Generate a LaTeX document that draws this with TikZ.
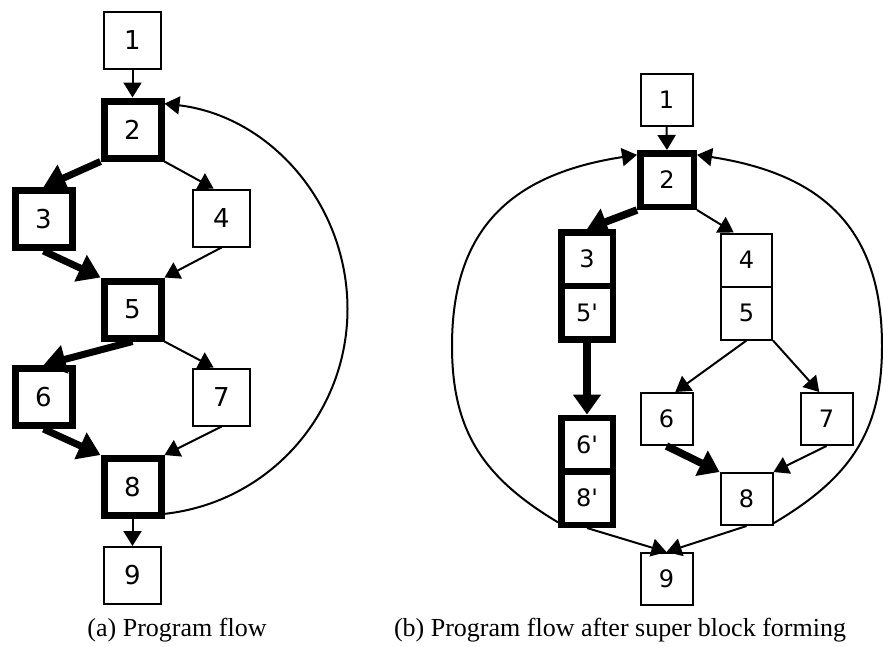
\documentclass[tikz,border=0pt]{standalone}
\usepackage{fontspec}
\setmainfont{Liberation Serif}
\newfontfamily\blockfont{DejaVu Sans}[Ligatures=TeXOff]
\usetikzlibrary{arrows.meta}

\begin{document}
\begin{tikzpicture}[x=1pt, y=-1pt,
  blk/.style={draw, rectangle, line width=2pt, minimum size=57pt, inner sep=0pt,
    font=\blockfont\fontsize{26}{26}\selectfont},
  hot/.style={blk, line width=7pt},
  rblk/.style={blk, minimum size=52pt, font=\blockfont\fontsize{24}{24}\selectfont},
  rhot/.style={rblk, line width=6.5pt},
  cell/.style={minimum width=51.5pt, minimum height=53.5pt},
  thin/.style={line width=2pt, -{Triangle[length=15pt, width=18pt]}},
  hotedge/.style={line width=7pt, -{Triangle[length=22pt, width=28pt]}},
  rhotedge/.style={line width=7.5pt, -{Triangle[length=20pt, width=27pt]}},
  caption/.style={anchor=base, font=\fontsize{26}{30}\selectfont}
]
\useasboundingbox (0,0) rectangle (883,646);

% ---------- (a) program flow ----------
\node[blk] (L1) at (132.5,40)    {1};
\node[hot] (L2) at (132.5,129.5) {2};
\node[hot] (L3) at (43.5,219)    {3};
\node[blk] (L4) at (221.5,218)   {4};
\node[hot] (L5) at (132.5,309.5) {5};
\node[hot] (L6) at (43.5,397)    {6};
\node[blk] (L7) at (221.5,397)   {7};
\node[hot] (L8) at (132.5,487)   {8};
\node[blk] (L9) at (132.5,575.5) {9};

\draw[thin]    (L1.south) -- (L2.north);
\draw[hotedge] (L2.south west) -- (L3.north);
\draw[thin]    (L2.south east) -- (L4.105);
\draw[hotedge] (L3.south) -- (L5.north west);
\draw[thin]    (L4.south) -- (L5.north east);
\draw[hotedge] (L5.south) -- (L6.north);
\draw[thin]    (L5.south east) -- (L7.105);
\draw[hotedge] (L6.south) -- (L8.north west);
\draw[thin]    (L7.south) -- (L8.north east);
\draw[thin]    (L8.south) -- (L9.north);
% back edge of the loop: a circular arc round the right side
\draw[thin] (L8.-40) .. controls (269.2,502.4) and (347.5,413.9) .. (347.5,309)
                     .. controls (347.5,204.1) and (270.1,116.1) .. (L2.39);

\node[caption] (capA) at (177,636) {(a) Program flow};

% ---------- (b) after super block forming ----------
\node[rblk] (R1) at (666.5,100) {1};
\node[rhot, minimum size=53.5pt] (R2) at (667,180) {2};
\node[rhot, cell] (R3)  at (587,259)   {3};
\node[rhot, cell] (R5p) at (587,312.5) {5\textquotesingle};
\node[rhot, cell] (R6p) at (587,444.5) {6\textquotesingle};
\node[rhot, cell] (R8p) at (587,498)   {8\textquotesingle};
\node[rblk, minimum width=51pt, minimum height=53pt] (R4) at (746.5,260) {4};
\node[rblk, minimum width=51pt, minimum height=53pt] (R5) at (746.5,313) {5};
\node[rblk] (R6) at (666.5,419) {6};
\node[rblk] (R7) at (826.5,419) {7};
\node[rblk] (R8) at (746.5,499) {8};
\node[rblk] (R9) at (666.5,579) {9};

\draw[thin]     (R1.south) -- (R2.north);
\draw[rhotedge] (R2.south west) -- (R3.north);
\draw[thin]     (R2.south east) -- (R4.115);
\draw[rhotedge] (R5p.south) -- (R6p.north);
\draw[thin]     (R5.south) -- (R6.72);
\draw[thin]     (R5.south east) -- (R7.105);
\draw[rhotedge] (R6.south) -- (R8.north west);
\draw[thin]     (R7.south) -- (R8.north east);
\draw[thin]     (R8p.south) -- (R9.north);
\draw[thin]     (R8.south) -- (R9.north);
% back edges of both traces, round the outside
\draw[thin] (R8p.220) .. controls (484,478) and (452,432) .. (452,346)
                      .. controls (452,228) and (512,174) .. (R2.140);
\draw[thin] (R8.-42) .. controls (850,478) and (882,432) .. (882,346)
                     .. controls (882,228) and (822,174) .. (R2.40);

\node[caption] (capB) at (620,636) {(b) Program flow after super block forming};
\end{tikzpicture}
\end{document}
